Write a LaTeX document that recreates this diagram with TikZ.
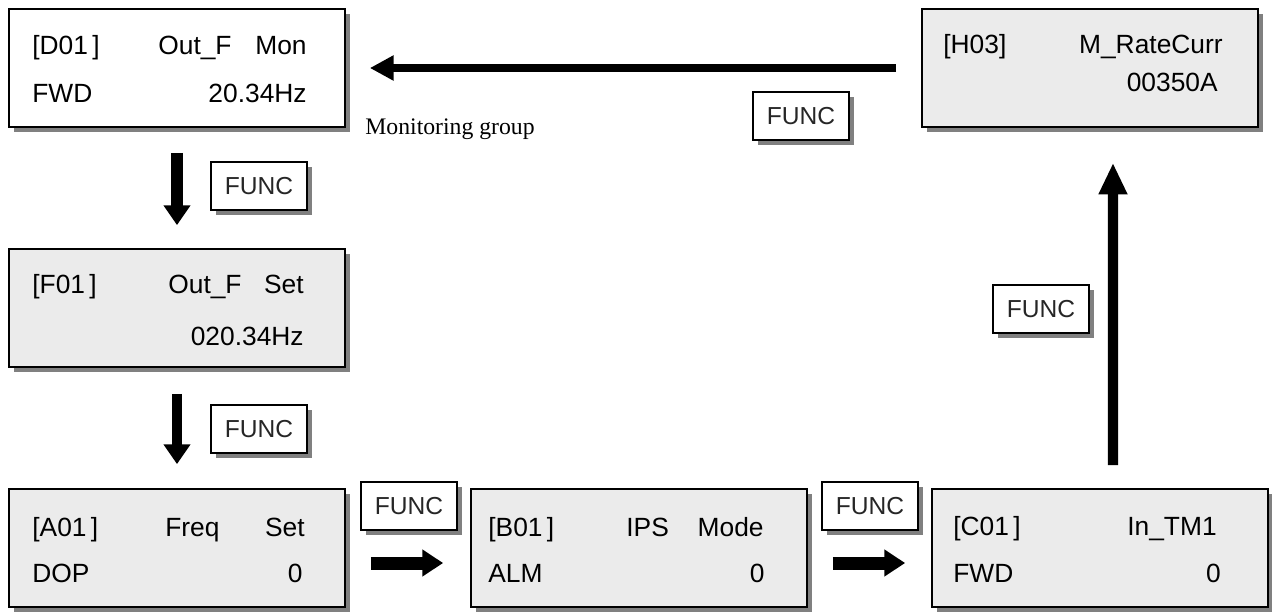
\documentclass[tikz,border=0pt]{standalone}
\usepackage{fontspec}
\setmainfont{Liberation Sans}
\newfontfamily\notefont{Liberation Serif}
\usetikzlibrary{arrows.meta,shadows}

\definecolor{lcdgray}{HTML}{EBEBEB}

\tikzset{
  panel/.style={draw,line width=1pt,fill=lcdgray,minimum width=6.72cm,minimum height=2.36cm,
    drop shadow={shadow xshift=0.1cm,shadow yshift=-0.1cm,fill=black!50,opacity=1}},
  funckey/.style={draw,line width=0.8pt,fill=white,minimum width=1.92cm,minimum height=0.96cm,
    inner sep=0pt,text=black!85,font=\fontsize{14}{16}\selectfont,
    drop shadow={shadow xshift=0.1cm,shadow yshift=-0.1cm,fill=black!50,opacity=1}},
  lcd/.style={inner sep=0pt,font=\fontsize{15}{18}\selectfont},
  push/.style n args={3}{line width=#1,-{Triangle[length=#2,width=#3]}}
}

\begin{document}
\begin{tikzpicture}[x=0.02cm,y=-0.02cm]
  \useasboundingbox (0,0) rectangle (1272,613);

  % parameter panels
  \node[panel,fill=white] (D01) at (177,68) {};
  \node[panel] (F01) at (177,308) {};
  \node[panel] (A01) at (177,548) {};
  \node[panel] (B01) at (639,548) {};
  \node[panel] (C01) at (1100,548) {};
  \node[panel] (H03) at (1090,68) {};

  % panel texts
  \node[lcd,anchor=base west] (d01-code) at (32,54) {[D01\,]};
  \node[lcd,anchor=base west] (d01-name) at (158,54) {Out\_F};
  \node[lcd,anchor=base east] (d01-kind) at (307,54) {Mon};
  \node[lcd,anchor=base west] (d01-dir) at (32,102) {FWD};
  \node[lcd,anchor=base east] (d01-val) at (307,102) {20.34Hz};

  \node[lcd,anchor=base west] (f01-code) at (32,293) {[F01\,]};
  \node[lcd,anchor=base west] (f01-name) at (168,293) {Out\_F};
  \node[lcd,anchor=base east] (f01-kind) at (304,293) {Set};
  \node[lcd,anchor=base east] (f01-val) at (304,345) {020.34Hz};

  \node[lcd,anchor=base west] (a01-code) at (32,536) {[A01\,]};
  \node[lcd,anchor=base west] (a01-name) at (165,536) {Freq};
  \node[lcd,anchor=base east] (a01-kind) at (305,536) {Set};
  \node[lcd,anchor=base west] (a01-dir) at (32,582) {DOP};
  \node[lcd,anchor=base east] (a01-val) at (303,582) {0};

  \node[lcd,anchor=base west] (b01-code) at (488,536) {[B01\,]};
  \node[lcd,anchor=base west] (b01-name) at (626,536) {IPS};
  \node[lcd,anchor=base east] (b01-kind) at (764,536) {Mode};
  \node[lcd,anchor=base west] (b01-dir) at (488,582) {ALM};
  \node[lcd,anchor=base east] (b01-val) at (765,582) {0};

  \node[lcd,anchor=base west] (c01-code) at (953,535) {[C01\,]};
  \node[lcd,anchor=base east] (c01-name) at (1217,535) {In\_TM1};
  \node[lcd,anchor=base west] (c01-dir) at (953,582) {FWD};
  \node[lcd,anchor=base east] (c01-val) at (1221,582) {0};

  \node[lcd,anchor=base west] (h03-code) at (943,53) {[H03]};
  \node[lcd,anchor=base east] (h03-name) at (1223,53) {M\_RateCurr};
  \node[lcd,anchor=base east] (h03-val) at (1218,91) {00350A};

  % keys
  \node[funckey] (k1) at (259,186) {FUNC};
  \node[funckey] (k2) at (259,429) {FUNC};
  \node[funckey] (k3) at (409,506) {FUNC};
  \node[funckey] (k4) at (870,506) {FUNC};
  \node[funckey] (k5) at (1041,309) {FUNC};
  \node[funckey] (k6) at (801,116) {FUNC};

  \node[anchor=base west,inner sep=0pt,font=\notefont\fontsize{13.5}{16}\selectfont] (mon) at (365,134) {Monitoring group};

  % flow
  \path
    (D01) edge[push={6.6pt}{11.3pt}{14.7pt},shorten <=0.5cm,shorten >=0.46cm] (F01)
    (F01) edge[push={6.2pt}{11.3pt}{14.7pt},shorten <=0.52cm,shorten >=0.48cm] (A01)
    ([yshift=-0.3cm]A01.east) edge[push={7.4pt}{11.9pt}{14.7pt},shorten <=0.5cm,shorten >=0.54cm] ([yshift=-0.3cm]B01.west)
    ([yshift=-0.3cm]B01.east) edge[push={7.4pt}{11.9pt}{14.7pt},shorten <=0.5cm,shorten >=0.52cm] ([yshift=-0.3cm]C01.west)
    ([xshift=0.26cm]C01.north) edge[push={5.7pt}{18pt}{15.3pt},shorten <=0.46cm,shorten >=0.7cm] ([xshift=0.46cm]H03.south)
    (H03) edge[push={4.5pt}{13.6pt}{13.6pt},shorten <=0.5cm,shorten >=0.48cm] (D01);
\end{tikzpicture}
\end{document}
